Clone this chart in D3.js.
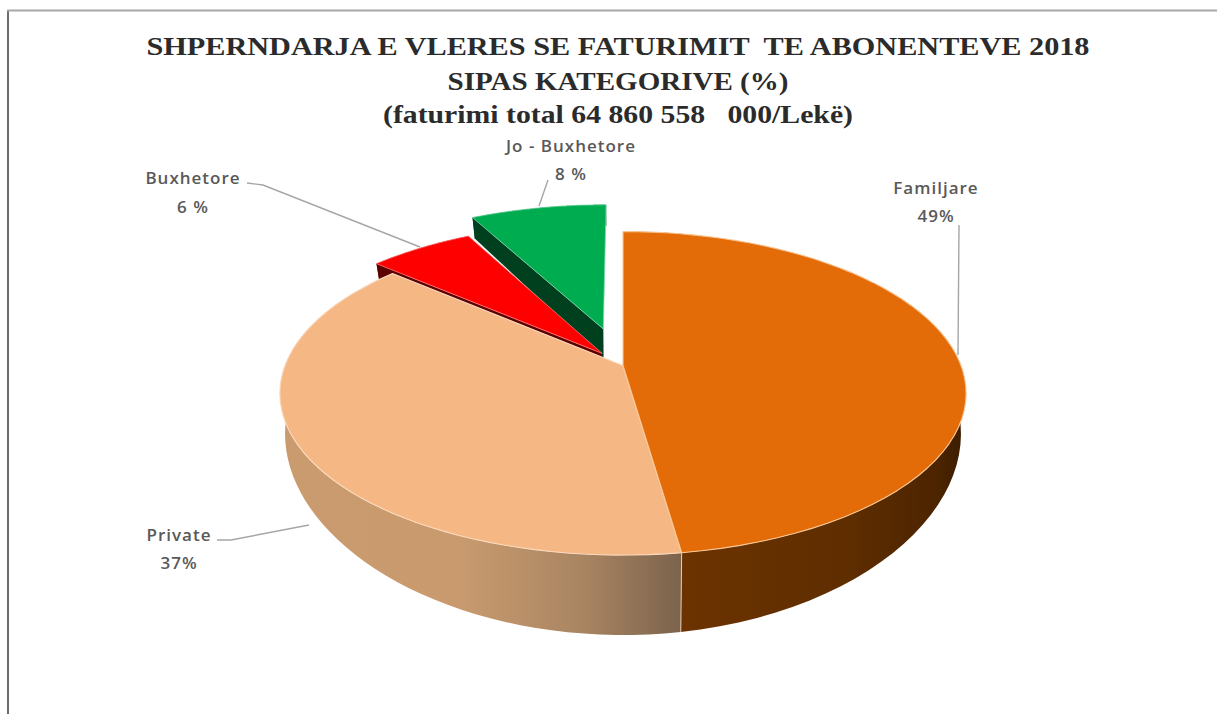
<!DOCTYPE html>
<html><head><meta charset="utf-8">
<script src="https://cdn.jsdelivr.net/npm/d3@7/dist/d3.min.js"></script>
<style>html,body{margin:0;padding:0;background:#fff;overflow:hidden}svg{display:block}text{white-space:pre}</style>
</head><body><svg id="c" width="1217" height="714"></svg>
<script>
const categories = ["Familjare","Private","Buxhetore","Jo - Buxhetore"];
const sliceShares = [47.7,38.6,5.9,7.8];      // shares as drawn in the picture
const printedLabels = ["49%","37%","6 %","8 %"];
const explodes = [0,0,0.1,0.25];
const titleLines = ["SHPERNDARJA E VLERES SE FATURIMIT  TE ABONENTEVE 2018","SIPAS KATEGORIVE (%)","(faturimi total 64 860 558   000/Lekë)"];

const svg = d3.select("#c"), W=1217, H=714;
const cx=623, cy=365.5, a=338, b=157, k=0.172;
const sx=d3.scaleLinear().domain([-1,1]).range([cx-a,cx+a]);
const sy=d3.scaleLinear().domain([-1,1]).range([cy-b,cy+b]);
const depth=y=>{const t=Math.max(0,(y-232)/320);return 21+58*Math.pow(t,1.6);};
const project=(u,v)=>{const w=1-k*v;return [sx(u/w),sy(v/w)];};
const lower=p=>[cx+(p[0]-cx)*0.985,p[1]+depth(p[1])];
const arcs=d3.pie().sort(null).value(d=>d)(sliceShares);
const line=d3.line();
const defs=svg.append("defs");
function grad(id,stops,x1,x2){const g=defs.append("linearGradient").attr("id",id).attr("gradientUnits","userSpaceOnUse").attr("x1",x1).attr("x2",x2).attr("y1",0).attr("y2",0);
 stops.forEach(s=>g.append("stop").attr("offset",s[0]).attr("stop-color",s[1]));}
grad("wOrange",[[0,"#6c3300"],[0.6,"#5e2d00"],[0.9,"#4c2400"],[1,"#3a1b00"]],681,966);
grad("wPrivate",[[0,"#c99b6f"],[0.45,"#c89a6e"],[0.75,"#a98562"],[1,"#7c634d"]],283,681);

const tops=["#e36c09","#f5b885","#ff0000","#00ac50"];
const walls=["url(#wOrange)","url(#wPrivate)","#5c0000","#00401e"];
const rims=["#fbc796","#fbd9bd","#ff7a7a","#7edcaa"];

const slices=arcs.map((d,i)=>{
  const mid=(d.startAngle+d.endAngle)/2;
  const ou=explodes[i]*Math.sin(mid), ov=-explodes[i]*Math.cos(mid);
  const pt=t=>project(Math.sin(t)+ou,-Math.cos(t)+ov);
  const ts=d3.range(0,61).map(j=>d.startAngle+(d.endAngle-d.startAngle)*j/60);
  const rim=ts.map(pt);
  return {i,apex:project(ou,ov),rim};
});

const plot=svg.append("g");
function drawWalls(s){
  // cut face on the start side, seen for the exploded slices
  if(explodes[s.i]>0){
    const e=s.rim[0], q=[s.apex,e,lower(e),lower(s.apex)];
    plot.append("path").attr("d",line(q)+"Z").attr("fill",walls[s.i]);
  }
  const poly=s.rim.concat(s.rim.map(lower).reverse());
  plot.append("path").attr("d",line(poly)+"Z").attr("fill",walls[s.i]);
}
function drawTop(s){
  plot.append("path").attr("d",line([s.apex].concat(s.rim))+"Z").attr("fill",tops[s.i])
    .attr("stroke",rims[s.i]).attr("stroke-width",s.i<2?1.1:0.8).attr("stroke-linejoin","round");
}
// back slices first, then the main disc
[slices[3],slices[2]].forEach(s=>{drawWalls(s);drawTop(s);});
[slices[1],slices[0]].forEach(drawWalls);
{const e=slices[0].rim[60], l=lower(e);
 plot.append("line").attr("x1",e[0]).attr("y1",e[1]).attr("x2",l[0]).attr("y2",l[1]).attr("stroke","#e3cdb8").attr("stroke-width",1);}
[slices[1],slices[0]].forEach(drawTop);

// frame
svg.append("line").attr("x1",8).attr("x2",8).attr("y1",10).attr("y2",H).attr("stroke","#6b6b6b").attr("stroke-width",2);
svg.append("line").attr("x1",7).attr("x2",W).attr("y1",10.5).attr("y2",10.5).attr("stroke","#a8a8a8").attr("stroke-width",2);

// title
const titleY=[55,90,123], titleLen=[943,341,470];
titleLines.forEach((t,i)=>svg.append("text").attr("x",618).attr("y",titleY[i]).attr("text-anchor","middle")
  .attr("font-family","'Liberation Serif',serif").attr("font-weight","bold").attr("font-size",26)
  .attr("textLength",titleLen[i]).attr("lengthAdjust","spacingAndGlyphs").attr("fill","#2b2b2b").text(t));

// leaders
const leaderPts=[[[959,225],[958,355]],[[217,540],[231,540],[309,525]],[[247,183],[263,185],[420,247]],[[548,180],[539,206]]];
leaderPts.forEach(p=>svg.append("path").attr("d",line(p)).attr("fill","none").attr("stroke","#a6a6a6").attr("stroke-width",1.4));

// labels
const labelAt=[[936,188,216],[179,535,563],[193,178,207],[571,146,174]];
categories.forEach((c,i)=>{
  const [x,y1,y2]=labelAt[i];
  [[c,y1],[printedLabels[i],y2]].forEach(([t,y])=>svg.append("text").attr("x",x).attr("y",y).attr("dy","0.35em").attr("text-anchor","middle")
    .attr("font-family","'Open Sans',sans-serif").attr("font-weight",600).attr("font-size",17).attr("letter-spacing",1).attr("fill","#595959").text(t));
});
</script></body></html>
